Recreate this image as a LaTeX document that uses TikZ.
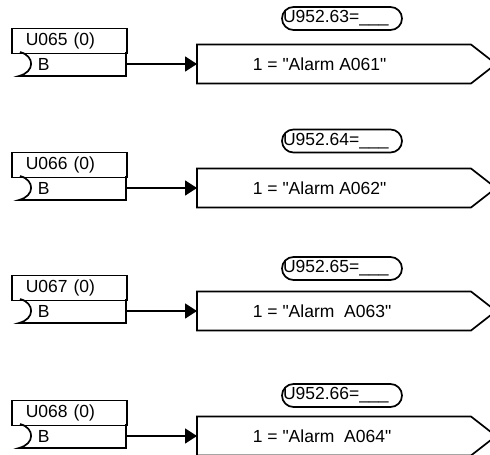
\documentclass[tikz,border=0pt]{standalone}
\usepackage{fontspec}
\setmainfont{Liberation Sans}[Ligatures=TeXOff]
\usetikzlibrary{arrows.meta}

\begin{document}
\begin{tikzpicture}[x=1pt, y=-1pt, line width=1.7pt,
    every node/.style={font=\fontsize{17.5}{20}\selectfont, inner sep=0pt},
    parbox/.style={draw, minimum width=115pt, minimum height=25pt, text width=87pt, inner xsep=14pt, align=left, anchor=north west},
    oval/.style={draw, rounded corners=11.5pt, minimum width=120pt, minimum height=23pt, text width=118pt, inner xsep=1pt, align=left}]
  \useasboundingbox (0,0) rectangle (490,455);
  \foreach \n/\y/\o/\txt in {5/64/18.5/{Alarm A061}, 6/188/141/{Alarm A062},
                              7/311/268.5/{Alarm~~A063}, 8/436/395.5/{Alarm~~A064}} {
    % parameter block on the left
    \node[parbox] (u\n) at (11,\y-36.5) {U06\n\ (0)};
    \draw (20,\y-12) .. controls (35,\y-8) and (35,\y+8) .. (19,\y+12) -- (126,\y+12) -- (126,\y-12);
    \node[anchor=west] (b\n) at (37,\y) {B};
    \coordinate (in\n) at (126,\y);
    % text output on the right
    \draw (197,\y-19.5) -- (471,\y-19.5) -- (496,\y) -- (471,\y+19.5) -- (197,\y+19.5) -- cycle;
    \coordinate (sig\n) at (197,\y);
    \node[anchor=west] (a\n) at (252,\y) {1 = "\txt"};
    \pgfmathtruncatemacro{\k}{\n+58}
    \node[oval] (v\n) at (342,\o) {U952.\k=\_\_\_};
    \draw[-{Triangle[length=12pt, width=15pt]}] (in\n) -- (sig\n);
  }
\end{tikzpicture}
\end{document}
